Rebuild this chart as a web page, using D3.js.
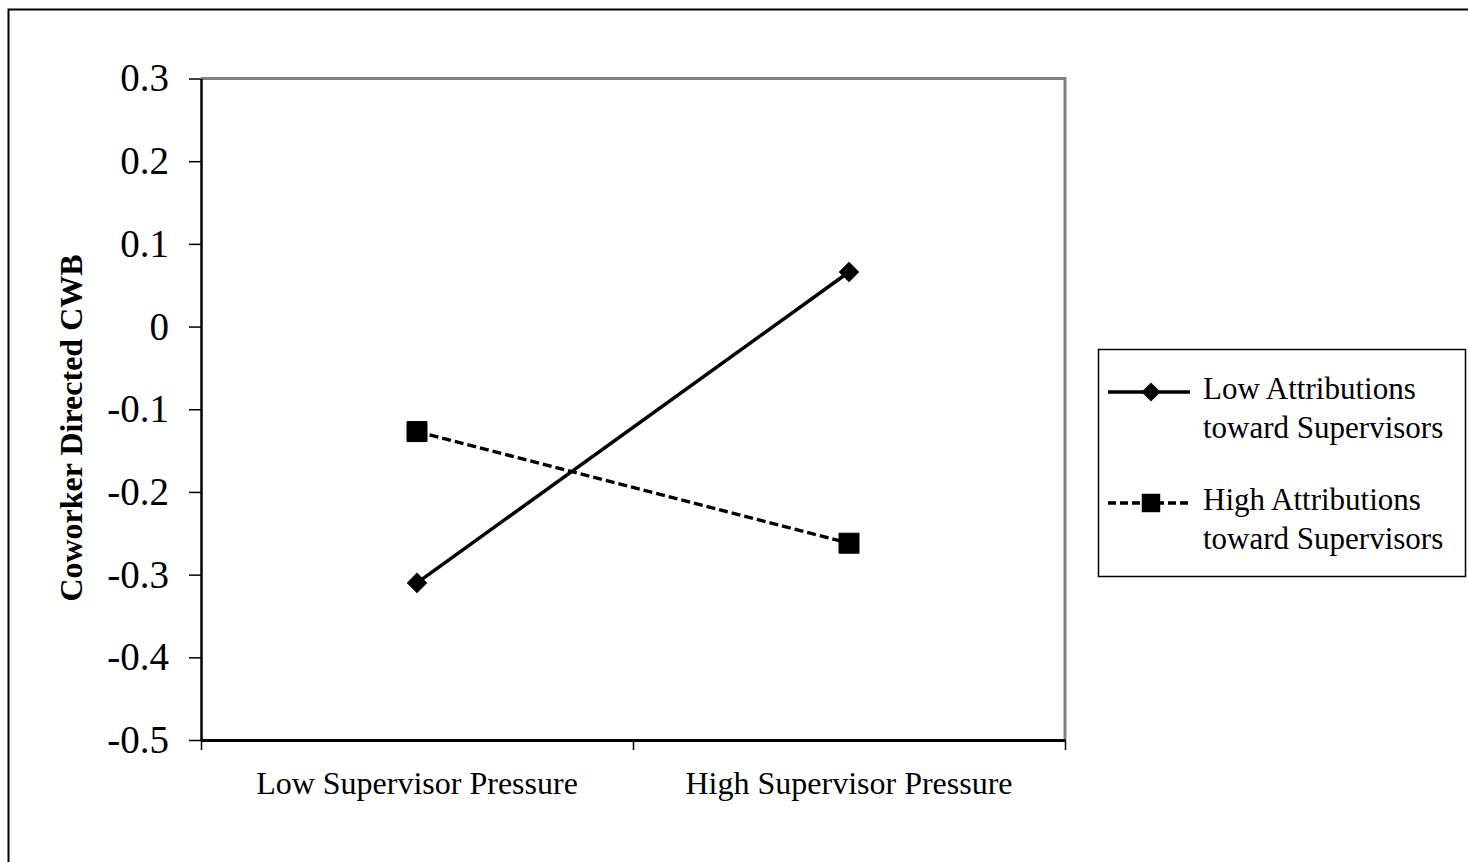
<!DOCTYPE html>
<html>
<head>
<meta charset="utf-8">
<script src="https://cdn.jsdelivr.net/npm/d3@7"></script>
<style>
  body { margin: 0; background: #fff; }
  text { font-family: "Liberation Serif", "Times New Roman", serif; fill: #000; }
</style>
</head>
<body>
<div id="chart"></div>
<script>
// values
var categories = ["Low Supervisor Pressure", "High Supervisor Pressure"];
var lowAttributions = [-0.31, 0.066];
var highAttributions = [-0.127, -0.262];
var seriesNames = [["Low Attributions", "toward Supervisors"], ["High Attributions", "toward Supervisors"]];
var yTicks = [0.3, 0.2, 0.1, 0, -0.1, -0.2, -0.3, -0.4, -0.5];
var yTickLabels = ["0.3", "0.2", "0.1", "0", "-0.1", "-0.2", "-0.3", "-0.4", "-0.5"];
var yTitle = "Coworker Directed CWB";

var width = 1468, height = 862;
var plot = {left: 201, right: 1065, top: 78.5, bottom: 740};

var svg = d3.select("#chart").append("svg")
    .attr("width", width)
    .attr("height", height);

// outer frame runs off the right and bottom of the picture
svg.append("rect")
    .attr("x", 8.5).attr("y", 9.5)
    .attr("width", 1500).attr("height", 900)
    .attr("fill", "none").attr("stroke", "#000").attr("stroke-width", 2);

var x = d3.scaleBand().domain(categories).range([plot.left, plot.right]);
var xEdges = d3.scaleLinear().domain([0, categories.length]).range([plot.left, plot.right]);
var y = d3.scaleLinear().domain([-0.5, 0.3]).range([plot.bottom, plot.top]);

// gray top and right border of plot area
svg.append("path")
    .attr("d", "M" + plot.left + "," + plot.top + "H" + plot.right + "V" + plot.bottom)
    .attr("fill", "none").attr("stroke", "#808080").attr("stroke-width", 3);

// y axis
var yAxis = svg.append("g")
    .attr("transform", "translate(" + plot.left + ",0)")
    .call(d3.axisLeft(y).tickValues(yTicks)
        .tickFormat((d, i) => yTickLabels[i])
        .tickSize(12).tickSizeOuter(0).tickPadding(20));
yAxis.select(".domain").attr("stroke-width", 2.5);
yAxis.selectAll(".tick line").attr("stroke-width", 1.5);
yAxis.selectAll("text").style("font-size", "39px").attr("fill", "#000");

// x axis: tick marks on category edges
var xTickAxis = svg.append("g")
    .attr("transform", "translate(0," + plot.bottom + ")")
    .call(d3.axisBottom(xEdges).tickValues(d3.range(categories.length + 1))
        .tickFormat("").tickSize(10).tickSizeOuter(0));
xTickAxis.select(".domain").attr("stroke-width", 3);
xTickAxis.selectAll(".tick line").attr("stroke-width", 1.5);

// x labels on category centres
var xLabelAxis = svg.append("g")
    .attr("transform", "translate(0," + plot.bottom + ")")
    .call(d3.axisBottom(x).tickSize(0).tickPadding(31));
xLabelAxis.select(".domain").remove();
xLabelAxis.selectAll("text").style("font-size", "32px").attr("fill", "#000");

// y title
svg.append("text")
    .attr("transform", "translate(82,428) rotate(-90)")
    .attr("text-anchor", "middle")
    .style("font-size", "32px")
    .style("font-weight", "bold")
    .text(yTitle);

var line = d3.line()
    .x((d, i) => x(categories[i]) + x.bandwidth() / 2)
    .y(d => y(d));

var diamond = d3.symbol().type(d3.symbolDiamond2).size(270);
var square = d3.symbol().type(d3.symbolSquare).size(400);

// low attributions: solid with diamonds
svg.append("path")
    .datum(lowAttributions)
    .attr("d", line)
    .attr("fill", "none").attr("stroke", "#000").attr("stroke-width", 3.5);
svg.selectAll(".lowpt")
    .data(lowAttributions)
    .enter().append("path")
    .attr("class", "lowpt")
    .attr("d", diamond)
    .attr("transform", (d, i) => "translate(" + (x(categories[i]) + x.bandwidth() / 2) + "," + y(d) + ")")
    .attr("fill", "#000");

// high attributions: dashed with squares
svg.append("path")
    .datum(highAttributions)
    .attr("d", line)
    .attr("fill", "none").attr("stroke", "#000").attr("stroke-width", 3.5)
    .attr("stroke-dasharray", "9,4");
svg.selectAll(".highpt")
    .data(highAttributions)
    .enter().append("path")
    .attr("class", "highpt")
    .attr("d", square)
    .attr("transform", (d, i) => "translate(" + (x(categories[i]) + x.bandwidth() / 2) + "," + y(d) + ")")
    .attr("fill", "#000")
    .attr("stroke", "#000").attr("stroke-width", 1).attr("stroke-linejoin", "round");

// legend
var legend = svg.append("g");
legend.append("rect")
    .attr("x", 1098.5).attr("y", 349.5)
    .attr("width", 367).attr("height", 227)
    .attr("fill", "#fff").attr("stroke", "#000").attr("stroke-width", 1.5);

var rows = legend.selectAll(".row")
    .data(seriesNames)
    .enter().append("g")
    .attr("class", "row")
    .attr("transform", (d, i) => "translate(0," + (392 + i * 111) + ")");

rows.append("line")
    .attr("x1", 1108).attr("x2", 1190)
    .attr("stroke", "#000").attr("stroke-width", 3.5)
    .attr("stroke-dasharray", (d, i) => i === 0 ? null : "8,4");

rows.append("path")
    .attr("d", (d, i) => i === 0 ? d3.symbol().type(d3.symbolDiamond2).size(230)() : d3.symbol().type(d3.symbolSquare).size(340)())
    .attr("transform", "translate(1151,0)")
    .attr("fill", "#000");

rows.each(function(d) {
    var t = d3.select(this).append("text")
        .attr("x", 1203).attr("y", 7)
        .style("font-size", "31px");
    d.forEach((s, j) => {
        t.append("tspan").attr("x", 1203).attr("dy", j === 0 ? 0 : 38.5).text(s);
    });
});
</script>
</body>
</html>
